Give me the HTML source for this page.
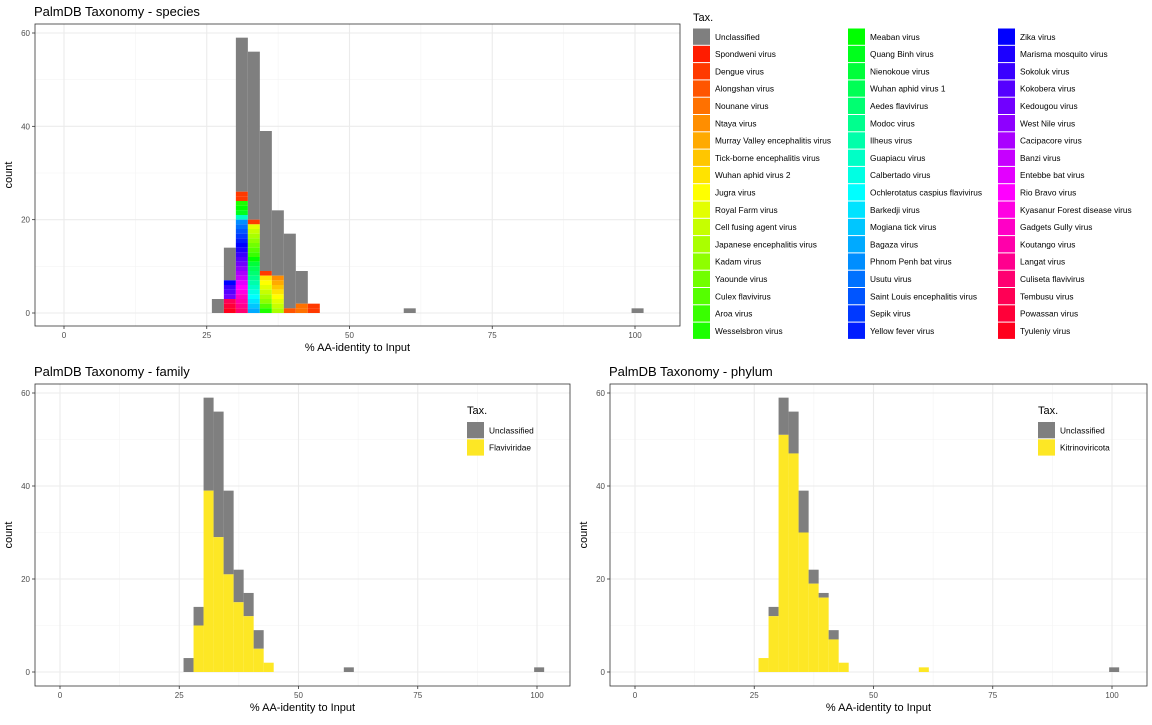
<!DOCTYPE html>
<html><head><meta charset="utf-8"><style>
body{margin:0;background:#fff;}
svg text{font-family:"Liberation Sans",sans-serif;}
</style></head><body>
<svg id="root" width="1152" height="720" xmlns="http://www.w3.org/2000/svg"></svg>
<script>
// shared bin categories (bin centers, % AA identity)
const binCenters = [26.95, 29.05, 31.15, 33.25, 35.35, 37.45, 39.55, 41.65, 43.75, 60.55, 100.45];
const binWidth = 2.1;
// total counts per bin
const totalCounts = [3, 14, 59, 56, 39, 22, 17, 9, 2, 1, 1];
// species stacks per bin: species indices, top -> bottom (one count each)
const speciesStacks = [
  [],
  [36,38,39,40,51,52,53],
  [2,2,17,18,19,25,31,32,33,34,35,36,37,38,39,40,41,42,43,44,45,46,47,48,49,50],
  [2,10,11,12,13,14,15,16,18,20,21,22,23,24,25,26,27,28,29,30],
  [2,8,9,10,11,12,13,15,17],
  [5,6,7,8,9,10,11,12],
  [3],
  [4,4],
  [2,2],
  [],
  []
];
// family: Flaviviridae counts
const familyCounts = [0, 10, 39, 29, 21, 15, 12, 5, 2, 0, 0];
// phylum: Kitrinoviricota counts
const phylumCounts = [3, 12, 51, 47, 30, 19, 16, 7, 2, 1, 0];
const speciesNames = ["Unclassified","Spondweni virus","Dengue virus","Alongshan virus","Nounane virus","Ntaya virus","Murray Valley encephalitis virus","Tick-borne encephalitis virus","Wuhan aphid virus 2","Jugra virus","Royal Farm virus","Cell fusing agent virus","Japanese encephalitis virus","Kadam virus","Yaounde virus","Culex flavivirus","Aroa virus","Wesselsbron virus",
"Meaban virus","Quang Binh virus","Nienokoue virus","Wuhan aphid virus 1","Aedes flavivirus","Modoc virus","Ilheus virus","Guapiacu virus","Calbertado virus","Ochlerotatus caspius flavivirus","Barkedji virus","Mogiana tick virus","Bagaza virus","Phnom Penh bat virus","Usutu virus","Saint Louis encephalitis virus","Sepik virus","Yellow fever virus",
"Zika virus","Marisma mosquito virus","Sokoluk virus","Kokobera virus","Kedougou virus","West Nile virus","Cacipacore virus","Banzi virus","Entebbe bat virus","Rio Bravo virus","Kyasanur Forest disease virus","Gadgets Gully virus","Koutango virus","Langat virus","Culiseta flavivirus","Tembusu virus","Powassan virus","Tyuleniy virus"];
const xTicks = [0, 25, 50, 75, 100];
const yTicks = [0, 20, 40, 60];

const NS = "http://www.w3.org/2000/svg";
const root = document.getElementById('root');
const GRAY = "#7f7f7f", YEL = "#fde725";
function mk(tag, attrs, parent){const e=document.createElementNS(NS,tag);for(const k in attrs)e.setAttribute(k,attrs[k]);(parent||root).appendChild(e);return e;}
function spColor(i){return i===0?GRAY:"hsl("+(i*360/54)+",100%,50%)";}

function panel(cfg){
  const g = mk('g',{});
  
  
  const X = v => cfg.x0 + (v - 0) * (cfg.x100 - cfg.x0) / 100;
  const Y = v => cfg.y0 - v * (cfg.y0 - cfg.y60) / 60;
  mk('rect',{x:cfg.l,y:cfg.t,width:cfg.r-cfg.l,height:cfg.b-cfg.t,fill:"#fff"},g);
  // grid
  [12.5,37.5,62.5,87.5].forEach(v=>mk('line',{x1:X(v),x2:X(v),y1:cfg.t,y2:cfg.b,stroke:"#f4f4f4","stroke-width":0.6},g));
  [10,30,50].forEach(v=>mk('line',{x1:cfg.l,x2:cfg.r,y1:Y(v),y2:Y(v),stroke:"#f4f4f4","stroke-width":0.6},g));
  xTicks.forEach(v=>mk('line',{x1:X(v),x2:X(v),y1:cfg.t,y2:cfg.b,stroke:"#ebebeb","stroke-width":1.1},g));
  yTicks.forEach(v=>mk('line',{x1:cfg.l,x2:cfg.r,y1:Y(v),y2:Y(v),stroke:"#ebebeb","stroke-width":1.1},g));
  // bars
  const bw = X(binWidth) - X(0);
  binCenters.forEach((c,i)=>{
    const left = X(c - binWidth/2);
    const segs = cfg.segs(i); // [{n,color}] top->bottom
    let rem = totalCounts[i];
    segs.forEach(s=>{
      const top = Y(rem), bot = Y(rem - s.n);
      if(s.n>0){
        const r = mk('rect',{x:left,y:top,width:bw,height:bot-top,fill:s.color},g);
        
        
      }
      rem -= s.n;
    });
  });
  mk('rect',{x:cfg.l,y:cfg.t,width:cfg.r-cfg.l,height:cfg.b-cfg.t,fill:"none",stroke:"#333","stroke-width":0.8},g);
  // ticks
  xTicks.forEach(v=>{
    mk('line',{x1:X(v),x2:X(v),y1:cfg.b,y2:cfg.b+3,stroke:"#333","stroke-width":0.8},g);
    const t=mk('text',{x:X(v),y:cfg.b+12,"font-size":8,fill:"#4d4d4d","text-anchor":"middle"},g);t.textContent=v;
  });
  yTicks.forEach(v=>{
    mk('line',{x1:cfg.l-3,x2:cfg.l,y1:Y(v),y2:Y(v),stroke:"#333","stroke-width":0.8},g);
    const t=mk('text',{x:cfg.l-5,y:Y(v)+3,"font-size":8,fill:"#4d4d4d","text-anchor":"end"},g);t.textContent=v;
  });
  let t=mk('text',{x:(cfg.l+cfg.r)/2,y:cfg.b+25,"font-size":11,fill:"#000","text-anchor":"middle"},g);t.textContent="% AA-identity to Input";
  
  t=mk('text',{x:0,y:0,"font-size":11,fill:"#000","text-anchor":"middle",transform:"translate("+(cfg.l-23)+","+((cfg.t+cfg.b)/2)+") rotate(-90)"},g);t.textContent="count";
  
  t=mk('text',{x:cfg.l-1,y:cfg.t-8,"font-size":13,fill:"#000"},g);t.textContent=cfg.title;
  
}

panel({name:"species-panel",title:"PalmDB Taxonomy - species",l:35,r:680,t:24,b:326,x0:64,x100:635,y0:313,y60:33,
  segs:i=>{const sp=speciesStacks[i];return [{n:totalCounts[i]-sp.length,color:GRAY}].concat(sp.map(s=>({n:1,color:spColor(s)})));}});
panel({name:"family-panel",title:"PalmDB Taxonomy - family",l:35,r:570,t:384,b:686,x0:60,x100:537,y0:672,y60:393,
  segs:i=>[{n:totalCounts[i]-familyCounts[i],color:GRAY},{n:familyCounts[i],color:YEL}]});
panel({name:"phylum-panel",title:"PalmDB Taxonomy - phylum",l:610,r:1147,t:384,b:686,x0:635,x100:1112,y0:672,y60:393,
  segs:i=>[{n:totalCounts[i]-phylumCounts[i],color:GRAY},{n:phylumCounts[i],color:YEL}]});

// species legend
(function(){
  const g=mk('g',{});
  
  
  let t=mk('text',{x:693,y:21,"font-size":11},g);t.textContent="Tax.";
  const cols=[693,848,998];
  speciesNames.forEach((n,i)=>{
    const c=Math.floor(i/18), r=i%18;
    const y=28.5+r*17.3;
    const k=mk('rect',{x:cols[c],y:y,width:17,height:16.3,fill:spColor(i)},g);
    
    
    const tx=mk('text',{x:cols[c]+22,y:y+11.3,"font-size":8.3,fill:"#000"},g);tx.textContent=n;
    
  });
})();
function smallLegend(x,label,name){
  const g=mk('g',{});
  
  
  let t=mk('text',{x:x,y:414,"font-size":11},g);t.textContent="Tax.";
  [["Unclassified",GRAY],[label,YEL]].forEach((e,i)=>{
    mk('rect',{x:x,y:422+i*17.3,width:17,height:16.3,fill:e[1]},g);
    const tx=mk('text',{x:x+22,y:433.3+i*17.3,"font-size":8.3},g);tx.textContent=e[0];
    
  });
}
smallLegend(467,"Flaviviridae","family-legend");
smallLegend(1038,"Kitrinoviricota","phylum-legend");
</script>
</body></html>
